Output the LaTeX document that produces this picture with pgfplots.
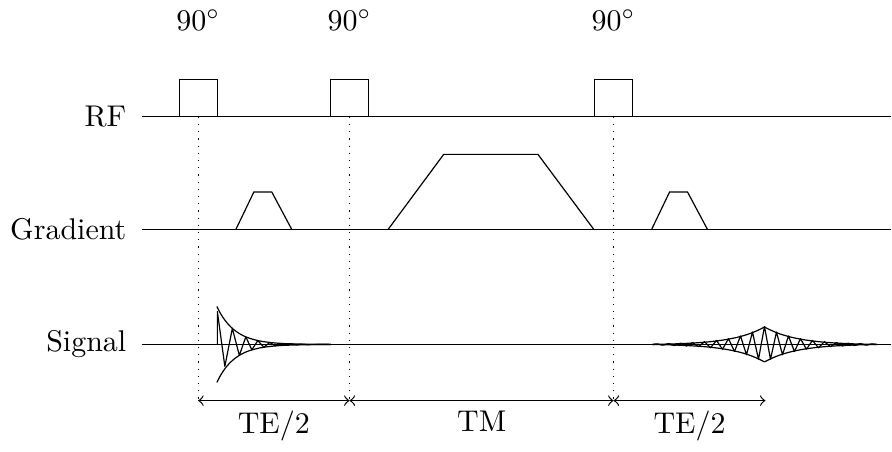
\documentclass[border=0pt]{standalone}
\usepackage{pgfplots}
\pgfplotsset{compat=1.18}
\begin{document}
\begin{tikzpicture}
\begin{axis}[hide axis, scale only axis, width=297.33pt, height=148.67pt,
  xmin=0, xmax=892, ymin=0, ymax=446, y dir=reverse, clip=false,
  ln/.style={black, solid, line width=0.4pt, mark=none}]
\path (rel axis cs:0,0) rectangle (rel axis cs:1,1);
% baselines
\addplot[ln] coordinates {(142,116.7)(892,116.7)};
\addplot[ln] coordinates {(142,229.5)(892,229.5)};
\addplot[ln] coordinates {(142,344.5)(892,344.5)};
% RF pulses
\addplot[ln] coordinates {(179.3,116.7)(179.3,79.3)(217.3,79.3)(217.3,116.7)};
\addplot[ln] coordinates {(331,116.7)(331,79.3)(369,79.3)(369,116.7)};
\addplot[ln] coordinates {(595,116.7)(595,79.3)(633,79.3)(633,116.7)};
% gradients
\addplot[ln] coordinates {(236,229.5)(254,192)(272,192)(292,229.5)};
\addplot[ln] coordinates {(388.3,229.5)(444,154.3)(538.3,154.3)(594.3,229.5)};
\addplot[ln] coordinates {(652,229.5)(670,192)(688,192)(708,229.5)};
% dotted guides
\addplot[ln, dotted] coordinates {(198.3,116.7)(198.3,400.7)};
\addplot[ln, dotted] coordinates {(349.8,116.7)(349.8,400.7)};
\addplot[ln, dotted] coordinates {(614,116.7)(614,400.7)};
% FID envelopes
\addplot[ln, smooth] coordinates {(217,306.5)(220,312.3)(223,317.3)(227,322.7)(231,327.0)(235,330.5)(240,333.9)(245,336.5)(250,338.4)(256,340.1)(262,341.4)(270,342.5)(280,343.4)(292,343.9)(310,344.3)(331,344.4)};
\addplot[ln, smooth] coordinates {(217,382.5)(220,376.7)(223,371.7)(227,366.3)(231,362.0)(235,358.5)(240,355.1)(245,352.5)(250,350.6)(256,348.9)(262,347.6)(270,346.5)(280,345.6)(292,345.1)(310,344.7)(331,344.6)};
% FID oscillation
\addplot[ln, line join=round] coordinates {(217.5,344.5)(217.5,311.5)(225,366.5)(232.5,328.4)(239.5,355.4)(246,336.9)(252,349.9)(258,340.6)(264,347.3)(270,342.5)(275.5,346.0)(281,343.4)(286.5,345.3)(292,343.9)(297.5,344.9)(303,344.2)(308.5,344.7)(331,344.5)};
% echo envelopes
\addplot[ln, smooth] coordinates {(653,344.5)(673,344.0)(693,343.1)(708,342.0)(720,340.6)(730,339.0)(738,337.3)(745,335.4)(751,333.4)(756,331.4)(760,329.6)(763,328.1)(765,327.0)};
\addplot[ln, smooth] coordinates {(765,327.0)(767,328.1)(770,329.6)(774,331.4)(779,333.4)(785,335.4)(792,337.3)(800,339.0)(810,340.6)(822,342.0)(837,343.1)(857,344.0)(877,344.5)};
\addplot[ln, smooth] coordinates {(653,344.5)(673,345.0)(693,345.9)(708,347.0)(720,348.4)(730,350.0)(738,351.7)(745,353.6)(751,355.6)(756,357.6)(760,359.4)(763,360.9)(765,362.0)};
\addplot[ln, smooth] coordinates {(765,362.0)(767,360.9)(770,359.4)(774,357.6)(779,355.6)(785,353.6)(792,351.7)(800,350.0)(810,348.4)(822,347.0)(837,345.9)(857,345.0)(877,344.5)};
% echo oscillation
\addplot[ln, line join=round] coordinates {(653,344.5)(657,343.9)(663,345.2)(669,343.6)(675,345.6)(681,343.2)(687,346.1)(693,342.6)(699,346.8)(705,341.7)(711,347.8)(717,340.5)(723,349.3)(729,338.7)(735,351.6)(741,336.0)(747,354.8)(753,332.1)(759,359.4)(765,326.5)(771,359.4)(777,332.1)(783,354.8)(789,336.0)(795,351.6)(801,338.7)(807,349.3)(813,340.5)(819,347.8)(825,341.7)(831,346.8)(837,342.6)(843,346.1)(849,343.2)(855,345.6)(861,343.6)(867,345.2)(873,343.9)(878,344.5)};
% timing arrows
\addplot[ln, <->] coordinates {(198.3,400.7)(349.8,400.7)};
\addplot[ln, <->] coordinates {(349.8,400.7)(614,400.7)};
\addplot[ln, <->] coordinates {(614,400.7)(766,400.7)};
% labels
\node[anchor=east, inner sep=0pt] at (axis cs:127,116.7) {RF};
\node[anchor=east, inner sep=0pt] at (axis cs:127,229.5) {Gradient};
\node[anchor=east, inner sep=0pt] at (axis cs:127,344.5) {Signal};
\node[anchor=base] at (axis cs:198.3,30.5) {90$^\circ$};
\node[anchor=base] at (axis cs:349.8,30.5) {90$^\circ$};
\node[anchor=base] at (axis cs:614,30.5) {90$^\circ$};
\node[below] at (axis cs:274,400.7) {TE/2};
\node[below] at (axis cs:482,400.7) {TM};
\node[below] at (axis cs:690,400.7) {TE/2};
\end{axis}
\end{tikzpicture}
\end{document}
